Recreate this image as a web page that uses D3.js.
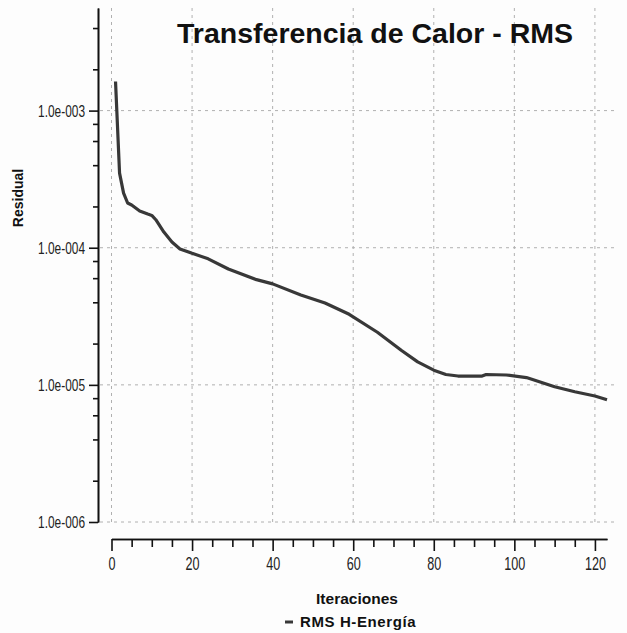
<!DOCTYPE html>
<html>
<head>
<meta charset="utf-8">
<script src="https://cdn.jsdelivr.net/npm/d3@7"></script>
<style>
  body { margin: 0; background: #fdfdfd; }
  svg { display: block; font-family: "Liberation Sans", Arial, sans-serif; }
</style>
</head>
<body>
<svg id="chart" width="627" height="633"></svg>
<script>
"use strict";

// DATA
const iterations = [1, 2, 3, 4, 5, 7, 9, 10, 11, 13, 15, 17, 20, 24, 29, 36, 40, 47, 53, 59,
	66, 72, 76, 80, 83, 86, 92, 93, 98, 103, 110, 115, 120, 123];
const rmsEnergy = [1.63e-3, 3.5e-4, 2.5e-4, 2.12e-4, 2.05e-4, 1.85e-4, 1.76e-4, 1.72e-4, 1.6e-4,
	1.3e-4, 1.1e-4, 9.8e-5, 9.1e-5, 8.3e-5, 7.0e-5, 5.85e-5, 5.45e-5, 4.52e-5, 3.95e-5, 3.27e-5,
	2.42e-5, 1.78e-5, 1.47e-5, 1.28e-5, 1.19e-5, 1.16e-5, 1.16e-5, 1.19e-5, 1.18e-5, 1.13e-5,
	9.7e-6, 8.9e-6, 8.3e-6, 7.8e-6];
const xTicks = [0, 20, 40, 60, 80, 100, 120];
const yTicks = [1e-3, 1e-4, 1e-5, 1e-6];
const seriesName = "RMS H-Energía";

const svg = d3.select("#chart");
const lineColor = "#383838";
const condense = 0.7;

// scales
const x = d3.scaleLinear().domain([0, 123]).range([111.5, 607]);
const y = d3.scaleLog().domain([1e-6, 5.6e-3]).range([522, 8]);

// minor ticks 2,4,6,8 per decade
const yMinor = [];
[1e-6, 1e-5, 1e-4, 1e-3].forEach((d) => {
	[2, 4, 6, 8].forEach((m) => {
		if (d * m <= 5.6e-3) yMinor.push(d * m);
	});
});
const xMinor = d3.range(5, 123, 5).filter((d) => d % 20 !== 0);

// grid
const grid = svg.append("g").attr("stroke", "#b0b0b0").attr("stroke-dasharray", "3,4");
grid.selectAll(".gx")
	.data(xTicks)
	.join("line")
	.attr("x1", (d) => x(d)).attr("x2", (d) => x(d))
	.attr("y1", 8).attr("y2", 522);
grid.selectAll(".gy")
	.data(yTicks)
	.join("line")
	.attr("x1", 100).attr("x2", 615)
	.attr("y1", (d) => y(d)).attr("y2", (d) => y(d));

// y axis
const yAxisG = svg.append("g").attr("transform", "translate(98,0)");
yAxisG.call(d3.axisLeft(y).tickValues(yMinor).tickSize(5).tickSizeOuter(0).tickFormat(""));
yAxisG.append("g").call(
	d3.axisLeft(y).tickValues(yTicks).tickSize(9).tickSizeOuter(0)
		.tickFormat((d) => "1.0e-00" + Math.round(-Math.log10(d)))
);
yAxisG.selectAll("path, line").attr("stroke", "#111").attr("stroke-width", 1.6);
yAxisG.selectAll("text")
	.attr("font-size", 17)
	.attr("fill", "#222")
	.attr("x", -13 / condense)
	.attr("transform", `scale(${condense},1)`);

// x axis
const xAxisG = svg.append("g").attr("transform", "translate(0,539)");
xAxisG.call(d3.axisBottom(x).tickValues(xMinor).tickSize(8).tickSizeOuter(0).tickFormat(""));
xAxisG.append("g").call(d3.axisBottom(x).tickValues(xTicks).tickSize(12).tickSizeOuter(0).tickPadding(6));
xAxisG.selectAll("path, line").attr("stroke", "#111").attr("stroke-width", 1.6);
xAxisG.selectAll("text")
	.attr("font-size", 18)
	.attr("fill", "#222")
	.attr("transform", `scale(${condense},1)`);

// series line
const line = d3.line()
	.x((d, i) => x(iterations[i]))
	.y((d) => y(d));
svg.append("path")
	.datum(rmsEnergy)
	.attr("d", line)
	.attr("fill", "none")
	.attr("stroke", lineColor)
	.attr("stroke-width", 3.2)
	.attr("stroke-linejoin", "round");

// title
svg.append("text")
	.attr("x", 375).attr("y", 43)
	.attr("text-anchor", "middle")
	.attr("font-size", 28.5)
	.attr("font-weight", "bold")
	.attr("fill", "#111")
	.text("Transferencia de Calor - RMS");

// axis labels
svg.append("text")
	.attr("transform", "translate(23,198) rotate(-90)")
	.attr("text-anchor", "middle")
	.attr("font-size", 14)
	.attr("font-weight", "bold")
	.attr("fill", "#111")
	.text("Residual");

svg.append("text")
	.attr("x", 357).attr("y", 604)
	.attr("text-anchor", "middle")
	.attr("font-size", 15.5)
	.attr("font-weight", "bold")
	.attr("fill", "#111")
	.text("Iteraciones");

// legend
svg.append("line")
	.attr("x1", 285).attr("x2", 293)
	.attr("y1", 622).attr("y2", 622)
	.attr("stroke", lineColor)
	.attr("stroke-width", 3);
svg.append("text")
	.attr("x", 300).attr("y", 627)
	.attr("font-size", 15)
	.attr("font-weight", "bold")
	.attr("letter-spacing", 0.6)
	.attr("fill", "#111")
	.text(seriesName);
</script>
</body>
</html>
